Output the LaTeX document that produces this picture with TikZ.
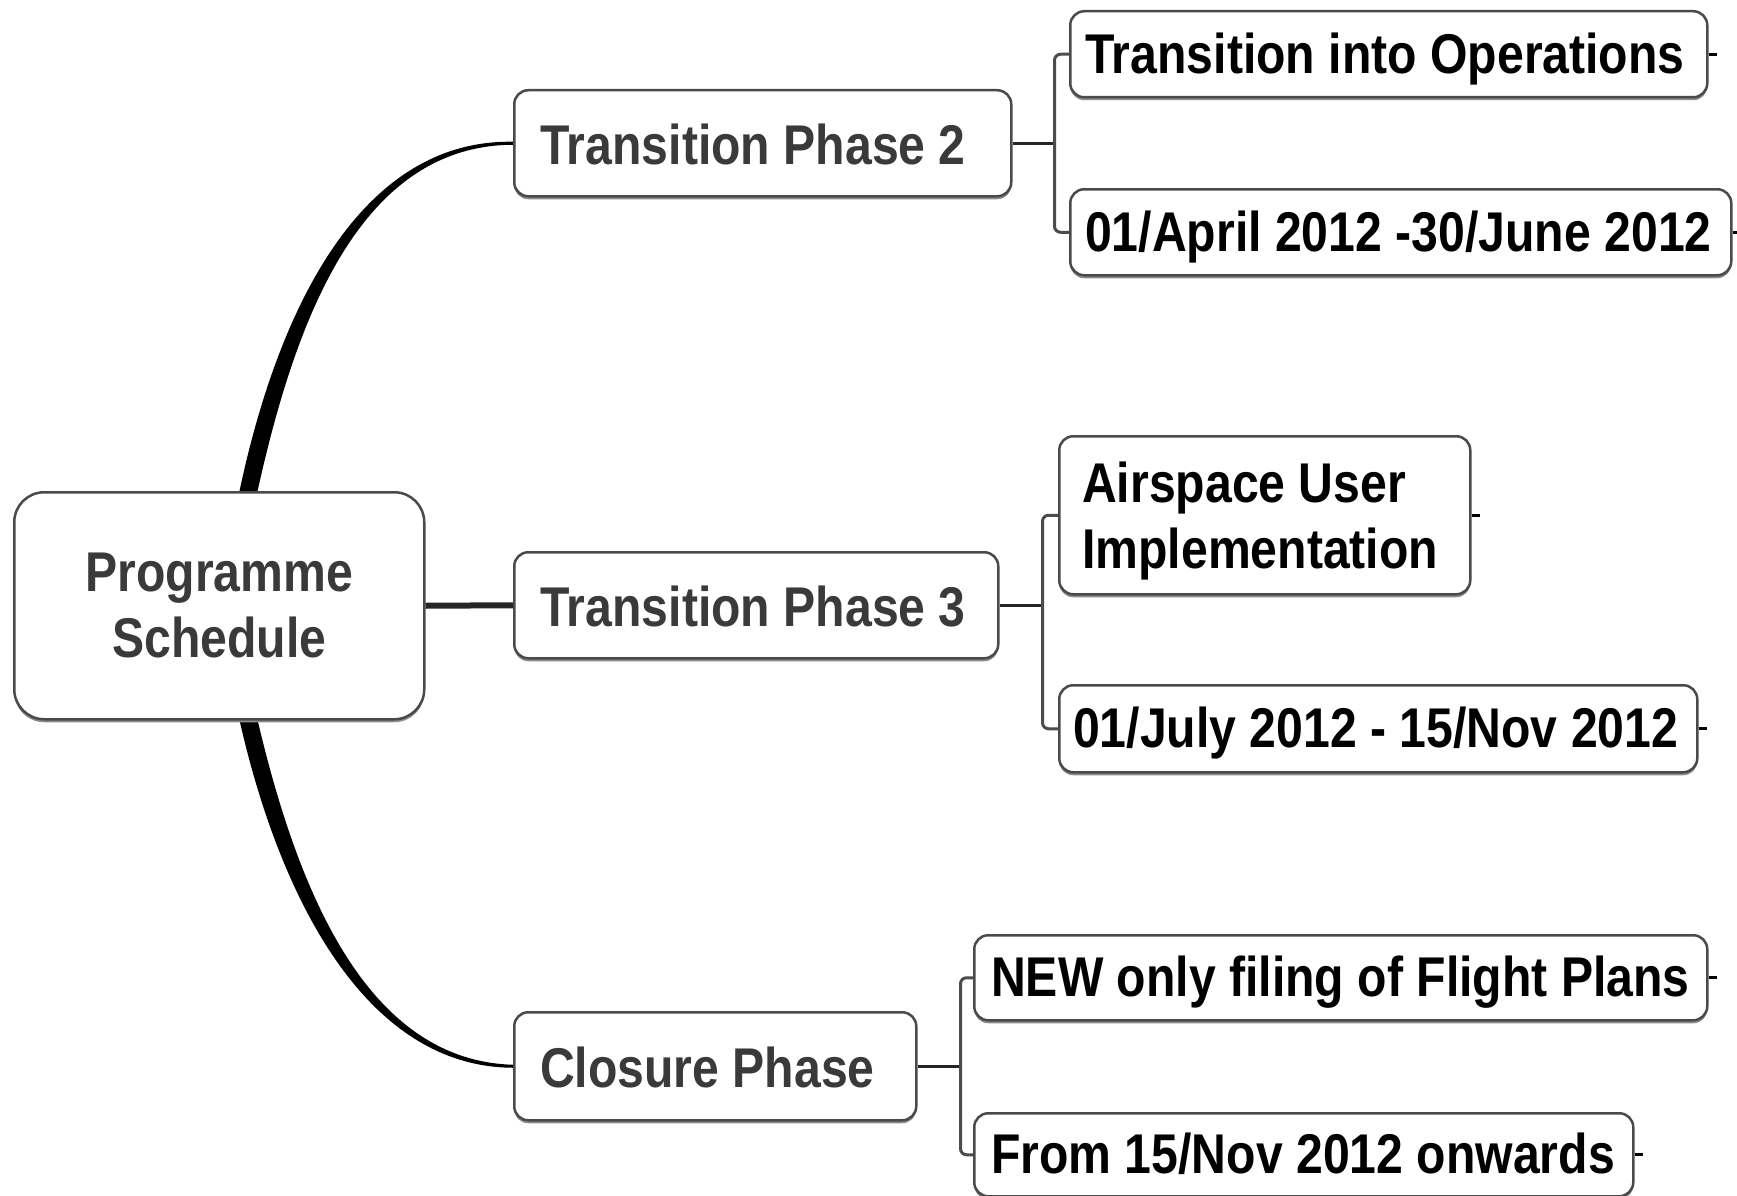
\documentclass[tikz,border=0pt]{standalone}
\usepackage{fontspec}
\setmainfont{Liberation Sans}[FakeStretch=0.86]
\usetikzlibrary{calc,shadows}
\pgfdeclarelayer{bg}
\pgfsetlayers{bg,main}
\definecolor{ptext}{HTML}{3A3A3A}
\definecolor{boxline}{HTML}{4A4A4A}
\tikzset{
  box/.style={draw=boxline, line width=2.5pt, fill=white, rounded corners=14pt,
    anchor=north west, inner sep=0pt,
    drop shadow={shadow xshift=0pt, shadow yshift=-3pt, fill=black!45, opacity=1}},
  txt/.style={anchor=base west, inner sep=0pt, font=\fontsize{56pt}{66.5pt}\selectfont\bfseries},
  ptxt/.style={txt, text=ptext},
  ctxt/.style={txt, text=black},
  taper/.style={fill=black},
  trunk/.style={line width=6pt, draw=black!85},
  link/.style={line width=3pt, draw=black!85},
  bracket/.style={line width=3pt, draw=black!70, rounded corners=6pt},
  stub/.style={line width=3pt, draw=black}
}
\begin{document}
\begin{tikzpicture}[x=1pt, y=-1pt]
\useasboundingbox (0,0) rectangle (1737,1196);

% boxes
\node[box, rounded corners=30pt, minimum width=410pt, minimum height=227pt] (root) at (13,491) {};
\node[box, minimum width=497pt, minimum height=106pt] (p2) at (513,89) {};
\node[box, minimum width=484pt, minimum height=106pt] (p3) at (513,551) {};
\node[box, minimum width=402pt, minimum height=108pt] (p4) at (513,1011) {};
\node[box, minimum width=637pt, minimum height=86pt] (c1) at (1069,10) {};
\node[box, minimum width=661pt, minimum height=86pt] (c2) at (1069,188) {};
\node[box, minimum width=411pt, minimum height=158pt] (c3) at (1058,435) {};
\node[box, minimum width=638pt, minimum height=87pt] (c4) at (1058,684) {};
\node[box, minimum width=733pt, minimum height=85pt] (c5) at (973,934) {};
\node[box, minimum width=659pt, minimum height=83pt] (c6) at (973,1112) {};

% texts
\node[ptxt, anchor=center, align=center] (troot) at (root.center) {Programme\\Schedule};
\node[ptxt] (tp2) at ($(p2.west)+(27,21)$) {Transition Phase 2};
\node[ptxt] (tp3) at ($(p3.west)+(27,21)$) {Transition Phase 3};
\node[ptxt] (tp4) at ($(p4.west)+(27,21)$) {Closure Phase};
\node[ctxt] (tc1) at ($(c1.west)+(16,19)$) {Transition into Operations};
\node[ctxt] (tc2) at ($(c2.west)+(16,19)$) {01/April 2012 -30/June 2012};
\node[ctxt, anchor=west, align=left] (tc3) at ($(c3.west)+(24,6)$) {Airspace User\\Implementation};
\node[ctxt] (tc4) at ($(c4.west)+(15,19)$) {01/July 2012 - 15/Nov 2012};
\node[ctxt] (tc5) at ($(c5.west)+(18,19)$) {NEW only filing of Flight Plans};
\node[ctxt] (tc6) at ($(c6.west)+(18,19)$) {From 15/Nov 2012 onwards};

% junction points
\coordinate (j2) at ($(p2.east)+(42,0)$);
\coordinate (j3) at ($(p3.east)+(43,0)$);
\coordinate (j4) at ($(p4.east)+(43,0)$);

\begin{pgfonlayer}{bg}
  \fill[white] (0,0) rectangle (1737,1196);
  % tapered curves from root
  \fill[taper] ($(root.north)+(19,6)$) .. controls (275,319) and (356,139) .. ($(p2.west)+(0,-1.5)$)
     -- ($(p2.west)+(0,1.5)$) .. controls (360,145.5) and (295,319) .. ($(root.north)+(37,6)$) -- cycle;
  \fill[taper] ($(root.south)+(19,-6)$) .. controls (277,890) and (362,1067) .. ($(p4.west)+(0,1.5)$)
     -- ($(p4.west)+(0,-1.5)$) .. controls (366,1060.5) and (297,890) .. ($(root.south)+(37,-6)$) -- cycle;
  \draw[trunk] (root.east) -- (p3.west);
  % brackets
  \draw[link] (p2.east) -- (j2);
  \draw[bracket] (c1.west) -| (j2) |- (c2.west);
  \draw[link] (p3.east) -- (j3);
  \draw[bracket] (c3.west) -| (j3) |- (c4.west);
  \draw[link] (p4.east) -- (j4);
  \draw[bracket] (c5.west) -| (j4) |- (c6.west);
\end{pgfonlayer}

% stubs
\draw[stub] (c1.east) -- ++(8,0);
\draw[stub] (c2.east) -- ++(8,0);
\draw[stub] (c3.east) -- ++(8,0);
\draw[stub] (c4.east) -- ++(8,0);
\draw[stub] (c5.east) -- ++(8,0);
\draw[stub] (c6.east) -- ++(8,0);
\end{tikzpicture}
\end{document}
